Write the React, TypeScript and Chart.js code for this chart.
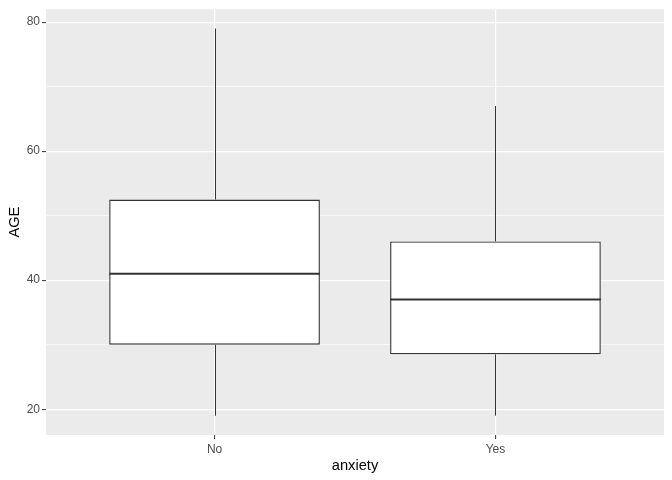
import React, { useEffect, useRef } from "react";
import { Chart, registerables } from "chart.js";

Chart.register(...registerables);

const categories = ["No", "Yes"];
const whiskerLow = [19, 19];
const q1 = [30, 28.5];
const median = [41, 37];
const q3 = [52.5, 46];
const whiskerHigh = [79, 67];
const yMajorTicks = [20, 40, 60, 80];
const yMinorTicks = [30, 50, 70];

const FONT = "'Liberation Sans', Arial, sans-serif";

const panelBg = {
  id: "panelBg",
  beforeDraw(chart: any) {
    const { ctx, chartArea } = chart;
    ctx.save();
    ctx.fillStyle = "#EBEBEB";
    ctx.fillRect(chartArea.left, chartArea.top, chartArea.right - chartArea.left, chartArea.bottom - chartArea.top);
    ctx.restore();
  },
};

const boxExtras = {
  id: "boxExtras",
  afterDatasetsDraw(chart: any) {
    const { ctx } = chart;
    const y = chart.scales.y;
    const meta = chart.getDatasetMeta(0);
    ctx.save();
    ctx.strokeStyle = "#333333";
    meta.data.forEach((bar: any, i: number) => {
      const x = Math.round(bar.x) + 0.5;
      ctx.lineWidth = 1;
      ctx.beginPath();
      ctx.moveTo(x, y.getPixelForValue(q3[i]));
      ctx.lineTo(x, y.getPixelForValue(whiskerHigh[i]));
      ctx.moveTo(x, y.getPixelForValue(q1[i]));
      ctx.lineTo(x, y.getPixelForValue(whiskerLow[i]));
      ctx.stroke();
      const half = bar.width / 2;
      const my = y.getPixelForValue(median[i]);
      ctx.lineWidth = 2;
      ctx.beginPath();
      ctx.moveTo(bar.x - half, my);
      ctx.lineTo(bar.x + half, my);
      ctx.stroke();
    });
    ctx.restore();
  },
};

export default function App() {
  const ref = useRef<HTMLCanvasElement>(null);
  useEffect(() => {
    document.body.style.margin = "0";
    const chart = new Chart(ref.current!, {
      type: "bar",
      data: {
        datasets: [
          {
            data: categories.map((_, i) => ({ x: i + 1, y: [q1[i], q3[i]] })) as any,
            backgroundColor: "#FFFFFF",
            borderColor: "#333333",
            borderWidth: 1.4,
            borderSkipped: false,
            barPercentage: 0.75,
            categoryPercentage: 1,
          },
        ],
      },
      options: {
        animation: false,
        responsive: false,
        layout: { padding: { top: 7, right: 8, left: 0, bottom: 0 } },
        plugins: { legend: { display: false }, tooltip: { enabled: false } },
        scales: {
          x: {
            type: "linear",
            min: 0.4,
            max: 2.6,
            offset: false,
            afterBuildTicks(scale: any) {
              scale.ticks = categories.map((_, i) => ({ value: i + 1 }));
            },
            afterFit(scale: any) {
              scale.height = 45;
            },
            ticks: {
              callback: (v: any) => categories[Math.round(v) - 1] ?? "",
              color: "#4D4D4D",
              font: { family: FONT, size: 12 },
              padding: 3,
              maxRotation: 0,
              autoSkip: false,
            },
            grid: {
              offset: false,
              color: "#FFFFFF",
              lineWidth: 1.2,
              tickColor: "#333333",
              tickLength: 4,
              tickWidth: 1,
            },
            border: { display: false },
            title: {
              display: true,
              text: "anxiety",
              color: "#000000",
              font: { family: FONT, size: 14.7 },
              padding: { top: 0, bottom: 5 },
            },
          },
          y: {
            type: "linear",
            min: 16,
            max: 82,
            afterBuildTicks(scale: any) {
              scale.ticks = [...yMajorTicks, ...yMinorTicks].sort((a, b) => a - b).map((v) => ({ value: v }));
            },
            afterFit(scale: any) {
              scale.width = 46;
            },
            ticks: {
              callback: (v: any) => (yMajorTicks.includes(v) ? String(v) : ""),
              color: "#4D4D4D",
              font: { family: FONT, size: 12 },
              padding: 2,
              autoSkip: false,
            },
            grid: {
              color: "#FFFFFF",
              lineWidth: (c: any) => (yMajorTicks.includes(c.tick?.value) ? 1.2 : 0.6),
              tickColor: (c: any) => (yMajorTicks.includes(c.tick?.value) ? "#333333" : "rgba(0,0,0,0)"),
              tickLength: 4,
              tickWidth: 1,
            },
            border: { display: false },
            title: {
              display: true,
              text: "AGE",
              color: "#000000",
              font: { family: FONT, size: 14.7 },
              padding: { top: 6, bottom: 0 },
            },
          },
        },
      },
      plugins: [panelBg, boxExtras],
    });
    return () => chart.destroy();
  }, []);
  return <canvas ref={ref} width={672} height={480} style={{ display: "block" }} />;
}
